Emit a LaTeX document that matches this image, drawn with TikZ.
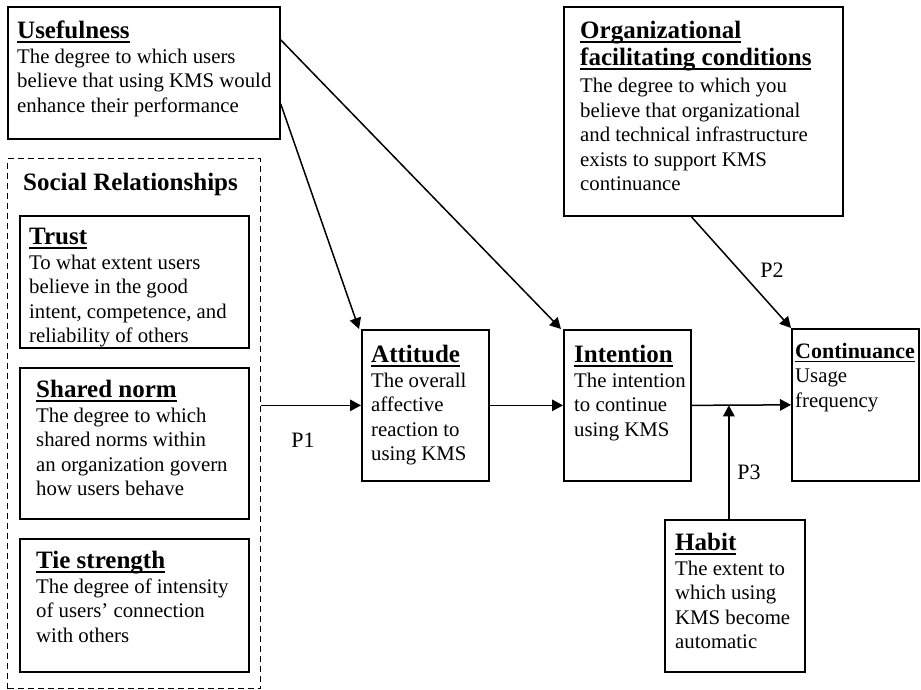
\documentclass[tikz,border=0pt]{standalone}
\usepackage{fontspec}
\setmainfont{Liberation Serif}
\usetikzlibrary{arrows.meta}
\newcommand{\heading}[2][25]{{\fontsize{#1}{#1}\selectfont\bfseries\setbox0\hbox{#2}\rlap{\vrule height -2.5pt depth 4pt width \wd0}\box0}}

\begin{document}
\begin{tikzpicture}
  [x=1pt,y=-1pt,
   box/.style={draw,line width=1.7pt,anchor=north west,inner sep=0pt},
   txt/.style={anchor=north west,align=left,inner sep=0pt,font=\fontsize{20.8}{24.5}\selectfont},
   lbl/.style={inner sep=0pt,font=\fontsize{22}{24}\selectfont},
   arr/.style={line width=1.5pt,-{Triangle[length=11pt,width=11.5pt]}}]

  \fill[white] (0,0) rectangle (921,689);
  \useasboundingbox (0,0) rectangle (921,689);

  % boxes
  \node[box,minimum width=272pt,minimum height=132pt] (useful) at (7,6) {};
  \node[box,dash pattern=on 6pt off 4pt,line width=1.4pt,minimum width=253pt,minimum height=530pt] (social) at (7,158) {};
  \node[box,minimum width=229pt,minimum height=132pt] (trust) at (19,215) {};
  \node[box,minimum width=229pt,minimum height=151pt] (norm) at (19,367) {};
  \node[box,minimum width=229pt,minimum height=133pt] (tie) at (19,538) {};
  \node[box,minimum width=127pt,minimum height=151pt] (att) at (361,329) {};
  \node[box,minimum width=127pt,minimum height=151pt] (intent) at (563,329) {};
  \node[box,minimum width=127pt,minimum height=152pt] (cont) at (791,328) {};
  \node[box,minimum width=279pt,minimum height=209pt] (org) at (563,6) {};
  \node[box,minimum width=140pt,minimum height=152pt] (habit) at (664,519) {};

  % texts
  \node[txt] (usefult) at ([shift={(10pt,-15pt)}]useful.north west)
    {\heading{Usefulness}\\The degree to which users\\believe that using KMS would\\enhance their performance};
  \node[anchor=north west,inner sep=0pt,font=\fontsize{25}{26}\selectfont\bfseries] (socialt)
    at ([shift={(16pt,-15pt)}]social.north west) {Social Relationships};
  \node[txt] (trustt) at ([shift={(10pt,-13pt)}]trust.north west)
    {\heading{Trust}\\To what extent users\\believe in the good\\intent, competence, and\\reliability of others};
  \node[txt] (normt) at ([shift={(17pt,-13pt)}]norm.north west)
    {\heading{Shared norm}\\The degree to which\\shared norms within\\an organization govern\\how users behave};
  \node[txt] (tiet) at ([shift={(17pt,-13pt)}]tie.north west)
    {\heading{Tie strength}\\The degree of intensity\\of users’ connection\\with others};
  \node[txt] (attt) at ([shift={(10pt,-16pt)}]att.north west)
    {\heading{Attitude}\\The overall\\affective\\reaction to\\using KMS};
  \node[txt] (intentt) at ([shift={(11pt,-16pt)}]intent.north west)
    {\heading{Intention}\\The intention\\to continue\\using KMS};
  \node[txt] (contt) at ([shift={(4pt,-15pt)}]cont.north west)
    {\heading[22]{Continuance}\\Usage\\frequency};
  \node[txt] (orgt) at ([shift={(17pt,-15pt)}]org.north west)
    {\heading{Organizational}\\[2.5pt]\heading{facilitating conditions}\\[2.5pt]The degree to which you\\believe that organizational\\and technical infrastructure\\exists to support KMS\\continuance};
  \node[txt] (habitt) at ([shift={(11pt,-14pt)}]habit.north west)
    {\heading{Habit}\\The extent to\\which using\\KMS become\\automatic};

  % labels
  \node[lbl] (p1) at (303,440) {P1};
  \node[lbl] (p2) at (772,270) {P2};
  \node[lbl] (p3) at (749,472) {P3};

  \draw[arr] ([yshift=-31pt]useful.east) -- ([xshift=-2pt]att.north west);
  \draw[arr] ([yshift=33pt]useful.east) -- ([xshift=-2pt]intent.north west);
  \draw[arr] ([xshift=-12pt]org.south) -- (cont.north west);
  \draw[arr] (social.east |- att.west) -- (att.west);
  \draw[arr] (att.east) -- (intent.west);
  \draw[arr] (intent.east) -- (cont.west);
  \draw[arr] ([xshift=-6pt]habit.north) -- ([xshift=-6pt]habit.north |- intent.east);
\end{tikzpicture}
\end{document}
